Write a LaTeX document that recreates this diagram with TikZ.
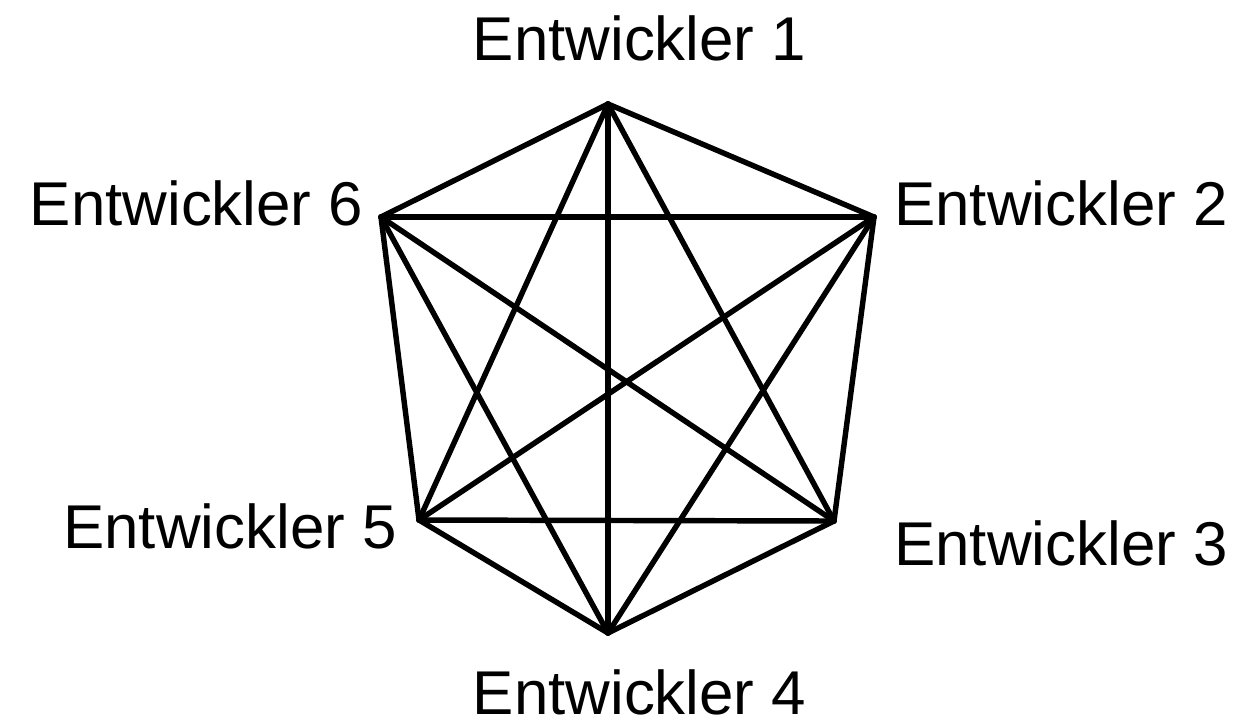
\documentclass[tikz,border=0pt]{standalone}
\usepackage{fontspec}
\setmainfont{Liberation Sans}
\begin{document}
\begin{tikzpicture}[x=0.02cm, y=-0.02cm, every node/.style={font=\fontsize{35.2}{40}\selectfont, inner sep=0pt, anchor=base}, edge/.style={line width=3.1pt, line cap=round, line join=round}]
  \useasboundingbox (0,0) rectangle (1256,720);
  % vertices
  \coordinate (v1) at (608,104);
  \coordinate (v2) at (874,217);
  \coordinate (v3) at (834,521);
  \coordinate (v4) at (608,633);
  \coordinate (v5) at (419,520);
  \coordinate (v6) at (381,217);
  % edges
  \foreach \a/\b in {1/2,1/3,1/4,1/5,1/6,2/3,2/4,2/5,2/6,3/4,3/5,3/6,4/5,4/6,5/6} { \draw[edge] (v\a) -- (v\b); }
  % labels
  \node (l1) at (639.5,60) {Entwickler 1};
  \node (l2) at (1061,225) {Entwickler 2};
  \node (l3) at (1061,565) {Entwickler 3};
  \node (l4) at (639.5,714) {Entwickler 4};
  \node (l5) at (230,548) {Entwickler 5};
  \node (l6) at (196.5,225) {Entwickler 6};
\end{tikzpicture}
\end{document}
